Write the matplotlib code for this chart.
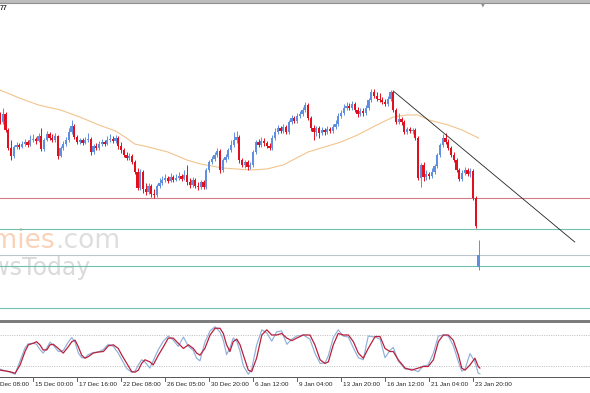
import matplotlib
matplotlib.use("Agg")
import matplotlib.pyplot as plt
import matplotlib.transforms as mtransforms
from matplotlib.patches import Rectangle
from matplotlib.lines import Line2D
import numpy as np

# ---------------- data ----------------
first_bar = 4
opens = [207,198,206,190,172,164,173,175,173,176,
         178,175,180,181,179,184,171,180,186,182,
         180,184,164,172,176,180,188,194,183,178,
         180,177,180,181,168,174,172,176,178,176,
         180,181,179,182,174,170,165,162,164,158,
         148,132,148,131,128,134,126,125,134,137,
         140,142,139,143,140,142,144,141,145,138,
         135,140,134,133,138,133,150,158,161,165,
         169,150,160,163,170,175,180,183,160,155,
         158,153,155,168,178,175,179,177,174,172,
         182,188,192,189,193,188,198,202,199,204,
         206,210,215,202,192,188,192,187,190,188,
         191,189,193,196,204,207,212,214,212,216,
         210,206,209,207,212,220,228,224,221,220,
         218,216,221,228,210,198,201,198,188,191,
         189,190,182,142,155,143,146,144,148,154,
         165,175,182,178,172,165,160,150,141,147,
         150,146,149,122,53]
highs = [208,212,208,192,180,175,178,177,179,181,
         180,185,186,183,187,192,182,189,188,186,
         187,185,174,179,183,192,200,196,185,182,
         182,183,187,183,176,177,179,181,180,184,
         186,184,185,184,178,172,168,167,166,160,
         152,151,150,137,137,136,131,136,142,144,
         146,144,147,145,146,148,146,150,155,142,
         143,142,138,140,140,152,160,164,168,172,
         171,162,166,172,180,188,189,185,162,160,
         160,158,170,180,181,183,182,179,177,185,
         192,195,194,196,195,200,205,204,207,209,
         213,218,217,204,195,194,194,193,192,194,
         193,196,200,207,210,216,218,217,219,218,
         213,212,212,215,222,231,231,228,227,223,
         221,224,230,229,212,207,203,200,193,193,
         192,192,184,157,158,150,148,152,156,167,
         177,186,187,181,174,168,162,152,150,153,
         152,152,151,124,80]
lows = [196,196,188,170,160,162,171,171,172,174,
        173,174,178,176,178,169,169,179,180,178,
        178,161,163,170,174,178,186,181,176,176,
        175,176,178,165,166,170,170,174,174,175,
        178,177,177,171,167,163,160,160,156,146,
        130,130,127,125,126,123,122,123,132,135,
        138,137,138,138,139,140,139,140,135,132,
        133,132,130,131,131,131,148,156,159,163,
        147,148,158,161,168,173,177,157,153,152,
        150,151,153,166,173,173,174,172,170,170,
        180,186,187,187,186,186,196,197,197,202,
        204,208,200,189,180,184,182,185,185,186,
        187,187,191,194,202,205,210,210,210,208,
        203,204,204,205,210,218,222,219,218,216,
        214,214,219,208,196,196,195,186,186,187,
        186,180,140,133,139,140,141,142,146,152,
        163,173,176,170,163,158,148,139,139,145,
        144,143,120,92,50]
closes = [198,206,190,172,164,173,175,173,176,178,
          175,180,181,179,184,171,180,186,182,180,
          184,164,172,176,180,188,194,183,178,180,
          177,180,181,168,174,172,176,178,176,180,
          181,179,182,174,170,165,162,164,158,148,
          132,148,131,128,134,126,125,134,137,140,
          142,139,143,140,142,144,141,145,138,135,
          140,134,133,138,133,150,158,161,165,169,
          150,160,163,170,175,180,183,160,155,158,
          153,155,168,178,175,179,177,174,172,182,
          188,192,189,193,188,198,202,199,204,206,
          210,215,202,192,188,192,187,190,188,191,
          189,193,196,204,207,212,214,212,216,210,
          206,209,207,212,220,228,224,221,220,218,
          216,221,228,210,198,201,198,188,191,189,
          190,182,142,155,143,146,144,148,154,165,
          175,182,178,172,165,160,150,141,147,150,
          146,149,122,94,65]

# moving average (bar index, value)
ma_bar = [4, 11, 18, 26, 33, 40, 46, 50, 53, 58, 65, 72, 77, 85, 95, 101, 107,
          116, 122, 128, 134, 141, 147, 152, 156, 160, 167, 172, 178]
ma_val = [230, 222, 215, 210, 203, 195, 189, 182, 176, 173, 168, 160, 156, 152,
          150, 151, 155, 168, 173, 178, 185, 195, 203, 205, 205, 200, 195, 190, 182]

# horizontal levels and trendline
red_level = 122.5
teal_levels = [91.5, 54.5, 12.5]
gray_level = 65
trend_bars = [147, 213]
trend_vals = [229, 78]

# stochastic oscillator
stoch_bar = [4.0,7.6,9.5,11.3,13.1,14.3,16.1,17.3,18.5,19.7,
             21.0,22.2,23.4,25.2,27.0,28.8,30.1,31.3,32.5,33.7,
             34.9,36.1,37.9,39.7,41.6,43.4,45.2,47.0,48.3,50.1,
             51.9,53.1,54.3,55.5,56.7,58.5,59.7,61.6,63.4,65.2,
             67.0,68.8,70.7,72.5,74.3,75.5,76.7,78.5,80.4,82.2,
             84.0,85.2,86.4,87.6,88.8,90.1,91.3,92.5,94.3,95.5,
             97.3,99.2,101.0,102.8,104.6,106.4,108.3,110.1,111.9,114.3,
             116.7,118.5,120.4,122.2,123.4,125.2,127.0,128.8,130.7,132.5,
             134.3,136.1,137.9,140.4,142.2,144.0,145.8,147.0,148.8,151.3,
             153.7,156.1,157.9,159.7,161.6,163.4,165.2,167.0,168.8,170.7,
             171.9,173.1,174.9,176.7,177.9,178.5]
stoch_signal = [12,9,6,22,48,61,64,67,61,51,
                51,61,62,54,45,57,67,70,57,41,
                35,38,45,47,48,59,61,54,41,25,
                9,8,12,25,32,28,22,41,57,74,
                74,64,54,61,54,45,41,54,80,93,
                93,83,61,48,67,72,61,41,12,9,
                35,80,90,80,80,83,74,69,74,80,
                80,61,32,25,28,61,83,80,80,67,
                45,35,54,77,77,54,48,48,32,16,
                12,16,19,19,32,67,80,80,70,41,
                16,12,22,35,19,16]
stoch_main = [14,8,4,30,55,63,64,62,52,45,
              55,66,60,48,50,66,75,66,45,36,
              36,42,46,47,52,62,58,45,32,15,
              8,10,22,32,28,16,30,52,68,78,
              70,58,76,58,50,35,30,66,88,96,
              86,70,42,55,74,68,48,20,4,14,
              60,90,84,68,86,88,62,72,78,80,
              72,45,25,26,40,75,90,78,76,55,
              36,32,78,76,72,36,50,56,30,14,
              14,9,20,22,45,78,80,78,60,28,
              10,14,44,28,6,5]
stoch_levels = [80, 20]

label_bars = [0, 16, 32, 48, 64, 80, 96, 112, 128, 144, 160, 176]
label_text = ["10 Dec 08:00", "15 Dec 00:00", "17 Dec 16:00", "22 Dec 08:00",
              "26 Dec 05:00", "30 Dec 20:00", "6 Jan 12:00", "9 Jan 04:00",
              "13 Jan 20:00", "16 Jan 12:00", "21 Jan 04:00", "23 Jan 20:00"]

# ---------------- figure ----------------
W, H = 590, 393
fig = plt.figure(figsize=(W / 100, H / 100), dpi=100)
fig.patch.set_facecolor("white")

def fy(py):
    return 1 - py / H

ax = fig.add_axes([0, fy(319), 1, (319 - 4) / H])
ax2 = fig.add_axes([0, fy(377), 1, (377 - 323) / H])

XL = (4.0, 4.0 + 590 / 2.75)
for a in (ax, ax2):
    a.set_xlim(*XL)
    for s in a.spines.values():
        s.set_visible(False)
    a.set_xticks([])
    a.set_yticks([])
    a.set_facecolor("none")

ax.set_ylim(1, 316)
ax2.set_ylim(-1.3, 103.2)

RED = "#e0101e"
BLUE = "#5f8fe0"

o = np.array(opens, float)
h = np.array(highs, float)
l = np.array(lows, float)
c = np.array(closes, float)
bars = np.arange(first_bar, first_bar + len(o))
cols = np.where(c >= o, BLUE, RED)

# watermark (behind)
wm_fam = ["DejaVu Sans"]
ax.text(55 / 2.75 + 4.0, 320 - 248, "Economies", color="#f8d3ba", fontsize=19,
        ha="right", va="baseline", family=wm_fam, zorder=0)
ax.text(55 / 2.75 + 4.0, 320 - 248, ".com", color="#dedede", fontsize=19,
        ha="left", va="baseline", family=wm_fam, zorder=0)
ax.text(91 / 2.75 + 4.0, 320 - 275, "NewsToday", color="#dadada", fontsize=17,
        ha="right", va="baseline", family=wm_fam, zorder=0)

# horizontal lines
ax.axhline(red_level, color="#cf7c86", lw=0.8, zorder=1)
for v in teal_levels:
    ax.axhline(v, color="#6fbfae", lw=0.8, zorder=1)
ax.axhline(gray_level, color="#b9c6cc", lw=0.8, zorder=1)

# moving average
ax.plot(ma_bar, ma_val, color="#f2c48e", lw=0.8, zorder=2)

# candles
ax.vlines(bars, l, h, colors=cols, lw=0.7, zorder=3)
body = np.maximum(np.abs(c - o), 0.8)
ax.bar(bars, body, bottom=np.minimum(o, c), width=0.8, color=cols,
       linewidth=0, zorder=4)

# trendline
ax.plot(trend_bars, trend_vals, color="#222222", lw=0.6, zorder=5)

# stochastic
for v in stoch_levels:
    ax2.axhline(v, color="#b4b4b4", lw=0.6, linestyle=(0, (1.2, 1.6)))
ax2.plot(stoch_bar, stoch_main, color="#8fb0d8", lw=0.85)
ax2.plot(stoch_bar, stoch_signal, color="#b8203c", lw=0.9)

# frame elements
fig.add_artist(Rectangle((0, fy(3)), 1, 3 / H, transform=fig.transFigure,
                         color="#bdbdbd", lw=0))
fig.add_artist(Line2D([0, 1], [fy(3.2), fy(3.2)], transform=fig.transFigure,
                      color="#8f8f8f", lw=0.8))
fig.add_artist(Rectangle((0, fy(323)), 1, 3 / H, transform=fig.transFigure,
                         color="#7d7d7d", lw=0))
fig.add_artist(Line2D([0, 1], [fy(377.3), fy(377.3)], transform=fig.transFigure,
                      color="#555555", lw=0.7))
fig.text(483 / W, fy(5), "\u25BC", fontsize=3.5, color="#909090",
         ha="center", va="center")
fig.text(0.0, fy(9), "77", fontsize=5, color="#333333", ha="left", va="center",
         family=["Liberation Sans", "DejaVu Sans"], weight="bold")

# time labels
trans = mtransforms.blended_transform_factory(ax2.transData, fig.transFigure)
for b, t in zip(label_bars, label_text):
    ax2.plot([b, b], [fy(377.5), fy(380.5)], transform=trans, color="#444444",
             lw=0.6, clip_on=False)
    ax2.text(b + 0.55, fy(384.5), t, transform=trans, fontsize=4.6,
             color="#222222", ha="left", va="center",
             family=["Liberation Sans", "DejaVu Sans"])

fig.savefig("out.png", dpi=100, facecolor="white")
